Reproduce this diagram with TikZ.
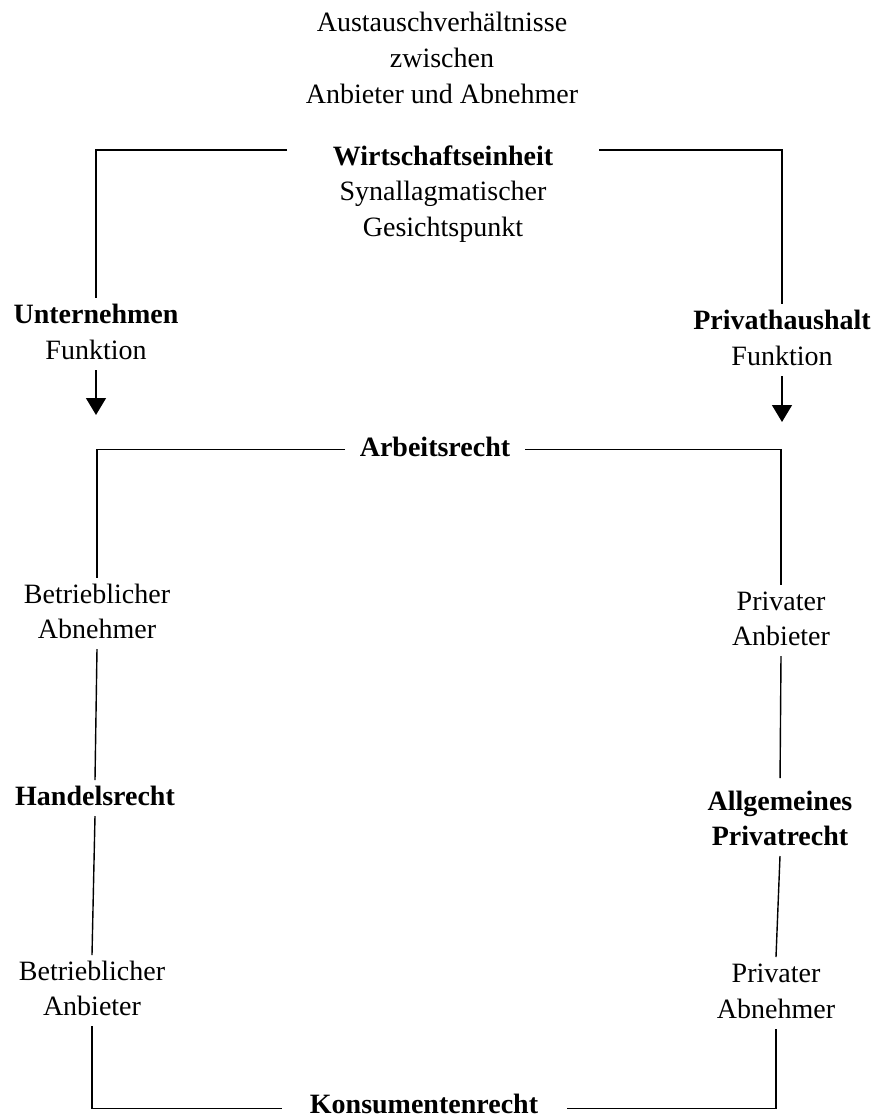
\documentclass[tikz,border=0pt]{standalone}
\usepackage{fontspec}
\setmainfont{Liberation Serif}
\usetikzlibrary{arrows.meta}
\begin{document}
\begin{tikzpicture}[x=1pt,y=-1pt,
  every node/.style={inner sep=0pt, outer sep=0pt, font=\fontsize{28}{36}\selectfont},
  lbl/.style={anchor=base, text height=20pt, text depth=6pt, outer ysep=5pt},
  blbl/.style={lbl, font=\fontsize{28}{36}\selectfont\bfseries},
  link/.style={line width=1.4pt},
  arr/.style={link, -{Triangle[width=20pt,length=17pt]}},
]
\useasboundingbox (0,0) rectangle (880,1117);

% title block
\node[lbl] (t1) at (442,31) {Austauschverhältnisse};
\node[lbl] (t2) at (442,67) {zwischen};
\node[lbl] (t3) at (442,103) {Anbieter und Abnehmer};
\node[blbl, text height=30pt, text depth=0pt, minimum width=312pt] (wirt) at (443,165) {Wirtschaftseinheit};
\node[lbl] (syn) at (443,200) {Synallagmatischer};
\node[lbl] (ges) at (443,236) {Gesichtspunkt};

% upper left / right
\node[blbl] (unt) at (96,323) {Unternehmen};
\node[lbl] (untf) at (96,359) {Funktion};
\coordinate (untarr) at (96,415);
\node[blbl] (priv) at (782,329) {Privathaushalt};
\node[lbl] (privf) at (782,365) {Funktion};
\coordinate (privarr) at (782,422);

% Arbeitsrecht
\node[blbl, text height=13pt, text depth=0pt, minimum width=180pt] (arb) at (435,456) {Arbeitsrecht};

% left column
\node[lbl] (bab1) at (97,603) {Betrieblicher};
\node[lbl] (bab2) at (97,638) {Abnehmer};
\node[blbl] (han) at (95,805) {Handelsrecht};
\node[lbl] (ban1) at (92,980) {Betrieblicher};
\node[lbl] (ban2) at (92,1015) {Anbieter};

% right column
\node[lbl] (pan1) at (781,610) {Privater};
\node[lbl] (pan2) at (781,645) {Anbieter};
\node[blbl] (allg1) at (780,810) {Allgemeines};
\node[blbl] (allg2) at (780,845) {Privatrecht};
\node[lbl] (pab1) at (776,982) {Privater};
\node[lbl] (pab2) at (776,1018) {Abnehmer};

% Konsumentenrecht
\node[blbl, text height=9pt, text depth=0pt, minimum width=285pt] (kons) at (424,1113) {Konsumentenrecht};

% connectors
\draw[link] (wirt.west) -| (unt.north);
\draw[link] (wirt.east) -| (priv.north);
\draw[arr] (untf.south) -- (untarr);
\draw[arr] (privf.south) -- (privarr);
\draw[link] (arb.west) -| (bab1.north);
\draw[link] (arb.east) -| (pan1.north);
\draw[link] (bab2.south) -- (han.north);
\draw[link] (han.south) -- (ban1.north);
\draw[link] (ban2.south) |- (kons.west);
\draw[link, shorten >=7pt] (pan2.south) -- (allg1.north);
\draw[link] (allg2.south) -- (pab1.north);
\draw[link] (pab2.south) |- (kons.east);
\end{tikzpicture}
\end{document}
